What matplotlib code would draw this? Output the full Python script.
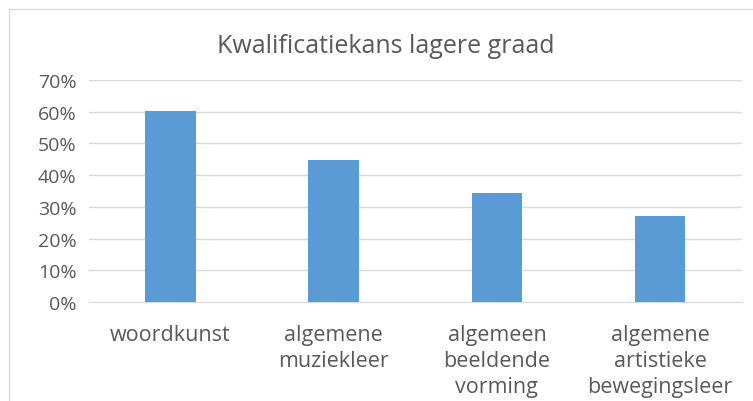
import matplotlib.pyplot as plt
from matplotlib.lines import Line2D
from matplotlib.ticker import PercentFormatter

# data
categories = ["woordkunst", "algemene\nmuziekleer", "algemeen\nbeeldende\nvorming",
              "algemene\nartistieke\nbewegingsleer"]
values = [0.603, 0.448, 0.344, 0.271]
title = "Kwalificatiekans lagere graad"

plt.rcParams['font.family'] = ['Open Sans', 'DejaVu Sans']
textColor = '#595959'

fig = plt.figure(figsize=(7.53, 4.02), dpi=100)
ax = fig.add_axes([0.118, 0.246, 0.867, 0.5525])

x = range(len(categories))
ax.bar(x, values, width=0.31, color='#5b9bd5', zorder=3)

ax.set_ylim(0, 0.7)
ax.set_xlim(-0.5, len(categories) - 0.5)
ax.set_yticks([i / 10 for i in range(8)])
ax.yaxis.set_major_formatter(PercentFormatter(1.0, decimals=0))
ax.set_xticks(list(x))
ax.set_xticklabels(categories, linespacing=1.3)
ax.tick_params(axis='both', length=0, colors=textColor)
ax.tick_params(axis='x', pad=16, labelsize=15.5)
ax.tick_params(axis='y', pad=9, labelsize=14)
ax.grid(axis='y', color='#d9d9d9', linewidth=1, zorder=0)
for s in ['top', 'right', 'left']:
    ax.spines[s].set_visible(False)
ax.spines['bottom'].set_color('#d9d9d9')

fig.text(0.512, 0.885, title, ha='center', va='center', fontsize=18, color=textColor)

# chart border
W, H = 753, 402
fig.add_artist(Line2D([9 / W, 9 / W], [0, 1 - 10 / H], color='#d9d9d9', lw=1, transform=fig.transFigure))
fig.add_artist(Line2D([9 / W, 752 / W], [1 - 10 / H, 1 - 10 / H], color='#d9d9d9', lw=1, transform=fig.transFigure))

fig.savefig('out.png', dpi=100)
